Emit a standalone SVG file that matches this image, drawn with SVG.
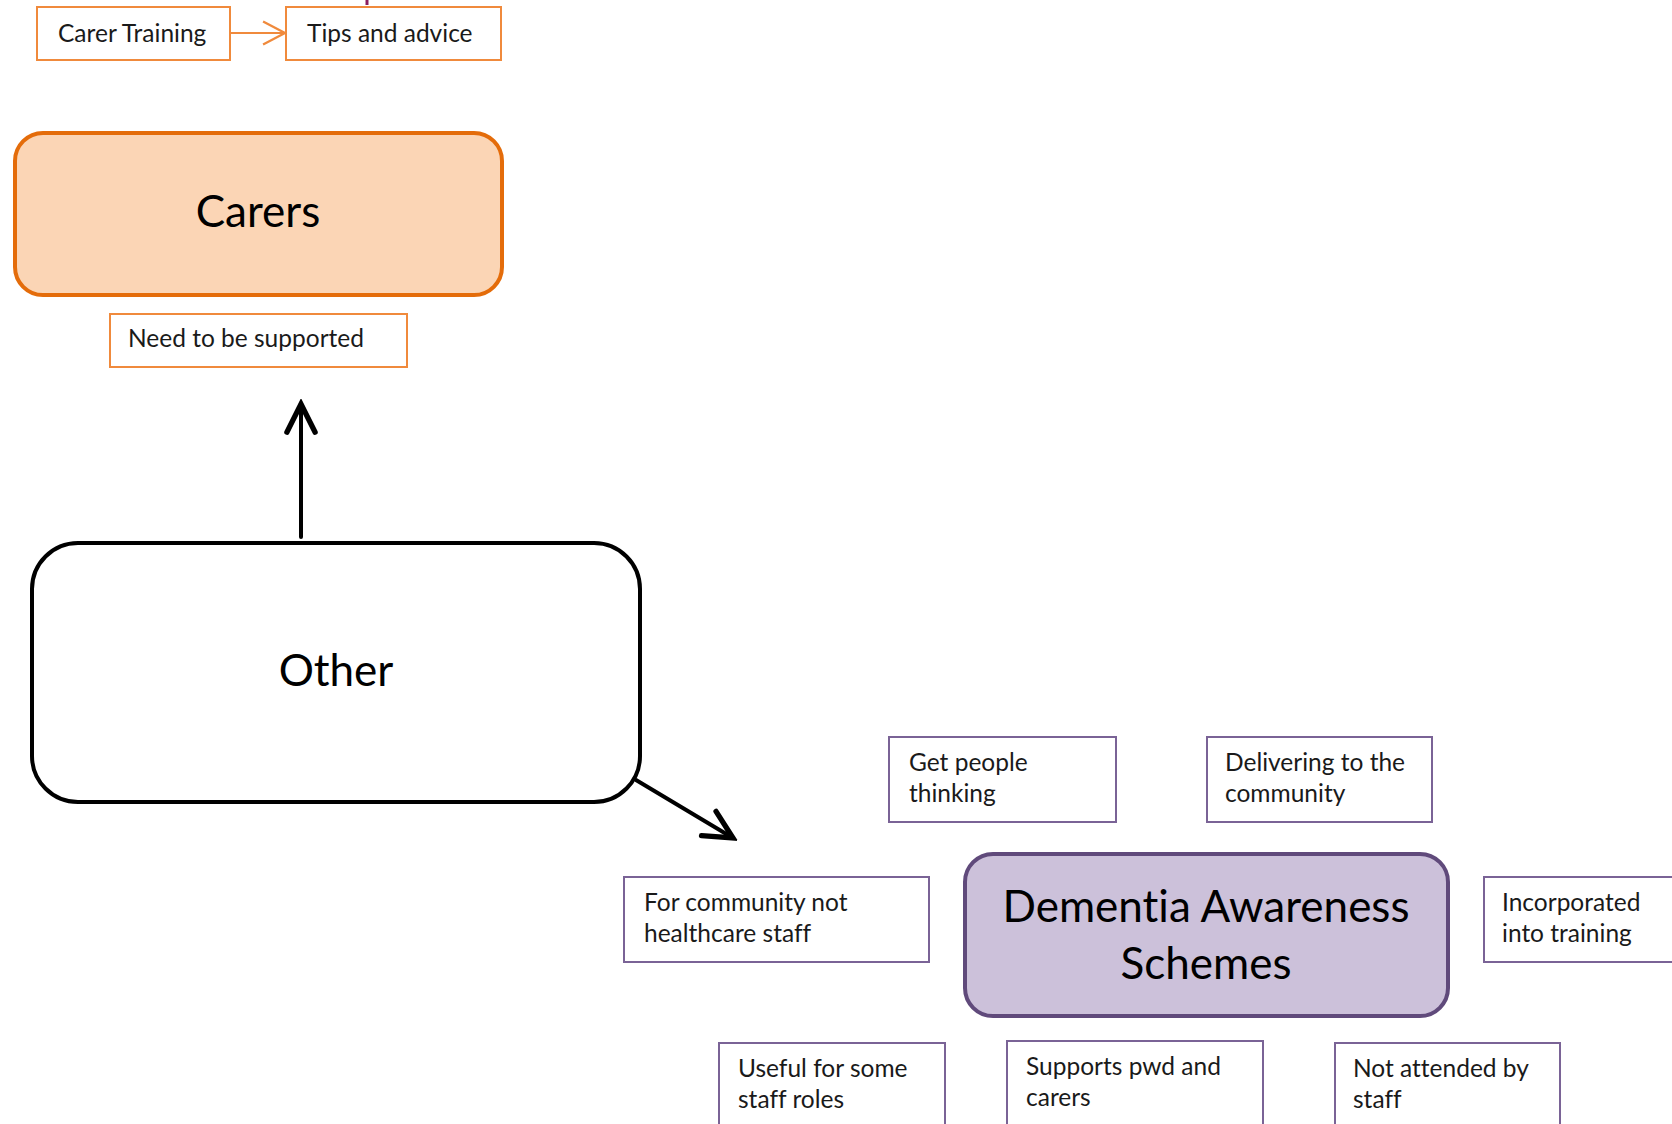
<svg xmlns="http://www.w3.org/2000/svg" width="1672" height="1124" viewBox="0 0 1672 1124">
<style>
  text { font-family: "Lato", "Liberation Sans", sans-serif; fill: #1a1a1a; font-variant-ligatures: none; }
  .small { font-size: 24.5px; }
  .big { font-size: 44px; fill: #000; }
  .obox { fill: #fff; stroke: #F08A3C; stroke-width: 2; }
  .pbox { fill: #fff; stroke: #7A6396; stroke-width: 2; }
  .blk { stroke: #000; stroke-width: 4; fill: none; stroke-linecap: round; }
</style>
<defs>
  <marker id="headBlack" markerUnits="userSpaceOnUse" markerWidth="40" markerHeight="40" viewBox="-30 -15 34 30" refX="0" refY="0" orient="auto">
    <path d="M -24 -12 L 0 0 L -24 12" fill="none" stroke="#000" stroke-width="4.5" stroke-linecap="round" stroke-linejoin="miter"/>
  </marker>
  <marker id="headOrange" markerUnits="userSpaceOnUse" markerWidth="30" markerHeight="30" viewBox="-22 -13 24 26" refX="0" refY="0" orient="auto">
    <path d="M -19 -10 L 0 0 L -19 10" fill="none" stroke="#F08A3C" stroke-width="2"/>
  </marker>
</defs>

<g id="connectors">
  <line x1="230" y1="33" x2="285" y2="33" stroke="#F08A3C" stroke-width="2" marker-end="url(#headOrange)"/>
  <line x1="367" y1="0" x2="367" y2="5" stroke="#8B1C5E" stroke-width="3"/>
  <line class="blk" x1="301" y1="537" x2="301" y2="404" marker-end="url(#headBlack)"/>
  <line class="blk" x1="636" y1="780" x2="733" y2="838" marker-end="url(#headBlack)"/>
</g>

<g id="carer-training">
  <rect class="obox" x="37" y="7" width="193" height="53"/>
  <text class="small" x="58" y="42">Carer Training</text>
</g>
<g id="tips-and-advice">
  <rect class="obox" x="286" y="7" width="215" height="53"/>
  <text class="small" x="307" y="42">Tips and advice</text>
</g>

<g id="carers">
  <rect x="15" y="133" width="487" height="162" rx="28" ry="28" fill="#FBD5B5" stroke="#E46C0A" stroke-width="4"/>
  <text class="big" x="258" y="227" text-anchor="middle">Carers</text>
</g>

<g id="need-to-be-supported">
  <rect class="obox" x="110" y="314" width="297" height="53"/>
  <text class="small" x="128" y="347">Need to be supported</text>
</g>

<g id="other">
  <rect x="32" y="543" width="608" height="259" rx="46" ry="46" fill="#fff" stroke="#000" stroke-width="4"/>
  <text class="big" x="336" y="686" text-anchor="middle">Other</text>
</g>

<g id="get-people-thinking">
  <rect class="pbox" x="889" y="737" width="227" height="85"/>
  <text class="small" x="909" y="771">Get people</text>
  <text class="small" x="909" y="802">thinking</text>
</g>

<g id="delivering-to-the-community">
  <rect class="pbox" x="1207" y="737" width="225" height="85"/>
  <text class="small" x="1225" y="771">Delivering to the</text>
  <text class="small" x="1225" y="802">community</text>
</g>

<g id="for-community">
  <rect class="pbox" x="624" y="877" width="305" height="85"/>
  <text class="small" x="644" y="911">For community not</text>
  <text class="small" x="644" y="942">healthcare staff</text>
</g>

<g id="dementia-awareness-schemes">
  <rect x="965" y="854" width="483" height="162" rx="28" ry="28" fill="#CCC1DA" stroke="#604A7B" stroke-width="4"/>
  <text class="big" x="1206" y="922" text-anchor="middle">Dementia Awareness</text>
  <text class="big" x="1206" y="979" text-anchor="middle">Schemes</text>
</g>

<g id="incorporated-into-training">
  <rect class="pbox" x="1484" y="877" width="200" height="85"/>
  <text class="small" x="1502" y="911">Incorporated</text>
  <text class="small" x="1502" y="942">into training</text>
</g>

<g id="useful-for-some-staff-roles">
  <rect class="pbox" x="719" y="1043" width="226" height="100"/>
  <text class="small" x="738" y="1077">Useful for some</text>
  <text class="small" x="738" y="1108">staff roles</text>
</g>

<g id="supports-pwd-and-carers">
  <rect class="pbox" x="1007" y="1041" width="256" height="100"/>
  <text class="small" x="1026" y="1075">Supports pwd and</text>
  <text class="small" x="1026" y="1106">carers</text>
</g>

<g id="not-attended-by-staff">
  <rect class="pbox" x="1335" y="1043" width="225" height="100"/>
  <text class="small" x="1353" y="1077">Not attended by</text>
  <text class="small" x="1353" y="1108">staff</text>
</g>
</svg>
